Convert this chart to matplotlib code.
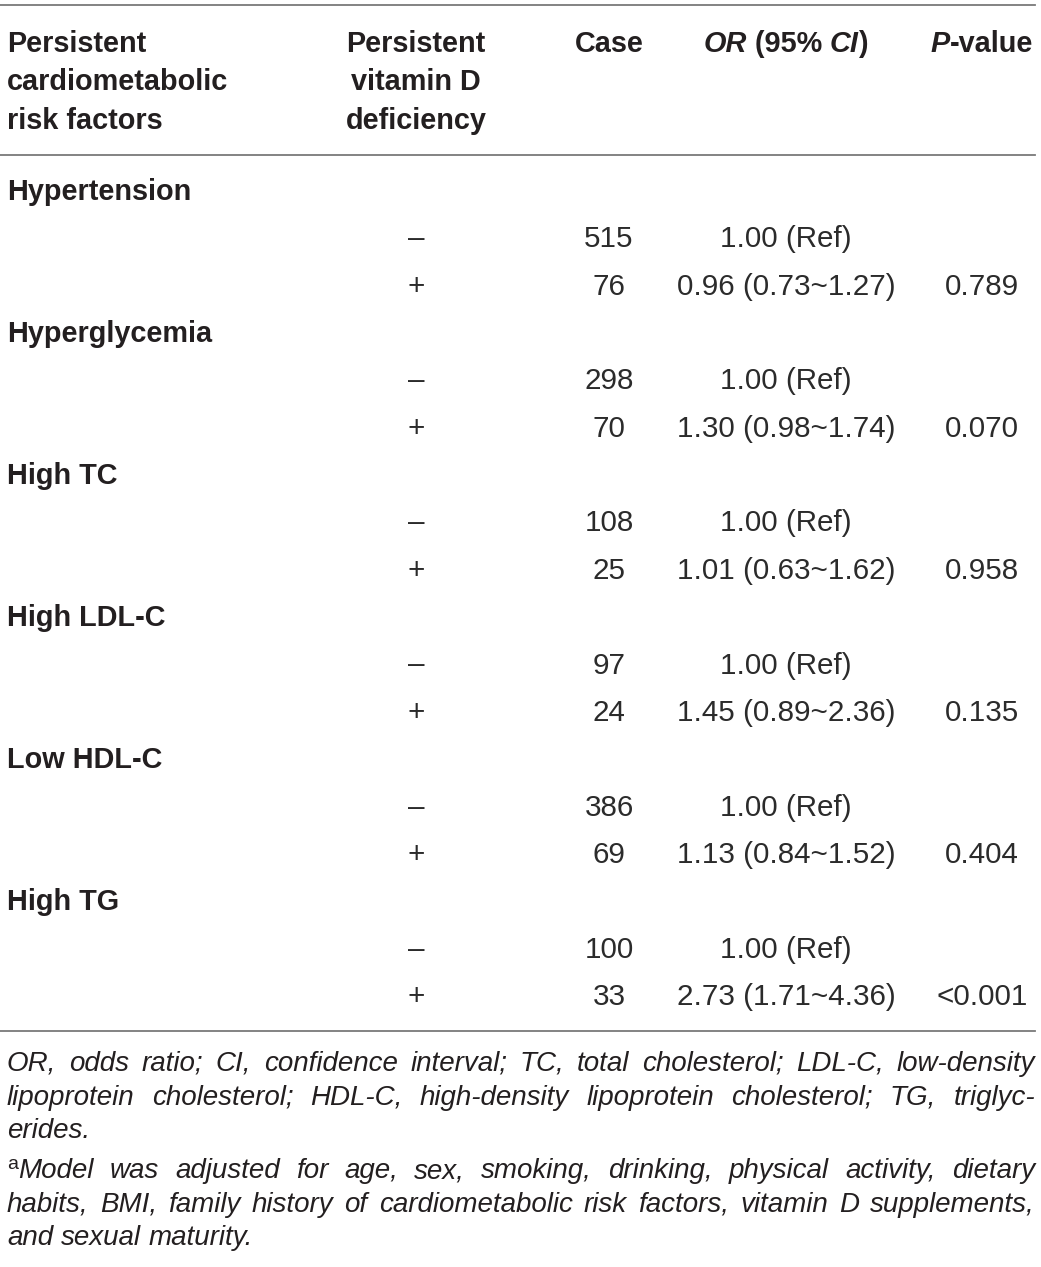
import matplotlib

matplotlib.use("Agg")
import matplotlib.pyplot as plt
from matplotlib.lines import Line2D

W, H = 1041, 1267
FONT = "Liberation Sans"
INK = "#231f20"
BODY = "#2b2b2b"
RULE = "#7a7a7a"

# table data
risk_factors = ["Hypertension", "Hyperglycemia", "High TC", "High LDL-C", "Low HDL-C", "High TG"]
deficiency = ["\u2013", "+"]
cases = [[515, 76], [298, 70], [108, 25], [97, 24], [386, 69], [100, 33]]
odds_ratios = [
    ["1.00 (Ref)", "0.96 (0.73~1.27)"],
    ["1.00 (Ref)", "1.30 (0.98~1.74)"],
    ["1.00 (Ref)", "1.01 (0.63~1.62)"],
    ["1.00 (Ref)", "1.45 (0.89~2.36)"],
    ["1.00 (Ref)", "1.13 (0.84~1.52)"],
    ["1.00 (Ref)", "2.73 (1.71~4.36)"],
]
p_values = [["", "0.789"], ["", "0.070"], ["", "0.958"], ["", "0.135"], ["", "0.404"], ["", "<0.001"]]

header_col1 = ["Persistent", "cardiometabolic", "risk factors"]
header_col2 = ["Persistent", "vitamin D", "deficiency"]
header_case = "Case"
header_or = [("OR", "italic"), (" (95% ", "normal"), ("CI", "italic"), (")", "normal")]
header_p = [("P", "italic"), ("-value", "normal")]

footnote_1 = [
    ("OR, odds ratio; CI, confidence interval; TC, total cholesterol; LDL-C, low-density", True),
    ("lipoprotein cholesterol; HDL-C, high-density lipoprotein cholesterol; TG, triglyc-", True),
    ("erides.", False),
]
footnote_2 = [
    ("Model was adjusted for age, sex, smoking, drinking, physical activity, dietary", True),
    ("habits, BMI, family history of cardiometabolic risk factors, vitamin D supplements,", True),
    ("and sexual maturity.", False),
]

BOLD_SIZE = 20.8
BODY_SIZE = 21.3
NOTE_SIZE = 20

fig = plt.figure(figsize=(W / 100, H / 100), dpi=100)
fig.patch.set_facecolor("white")
renderer = fig.canvas.get_renderer()


def fx(x):
    return x / W


def fy(y):
    return 1 - y / H


def put(x, y, s, ha="left", size=BOLD_SIZE, weight="normal", style="normal", color=INK):
    return fig.text(fx(x), fy(y), s, ha=ha, va="baseline", fontsize=size,
                    fontweight=weight, fontstyle=style, family=FONT, color=color)


def width(t):
    return t.get_window_extent(renderer).width


def put_segments(xc, y, segs, size=BOLD_SIZE, weight="bold"):
    texts = [put(0, y, s, size=size, weight=weight, style=st) for s, st in segs]
    total = sum(width(t) for t in texts)
    x = xc - total / 2
    for t in texts:
        t.set_x(fx(x))
        x += width(t)


def rule(y, x0=0, x1=1035):
    fig.add_artist(Line2D([fx(x0), fx(x1)], [fy(y), fy(y)], transform=fig.transFigure,
                          color=RULE, linewidth=1.3))


def justify(y, line, full, x0=7, x1=1035, size=NOTE_SIZE, lead=None):
    words = line.split(" ")
    texts = [put(0, y, w, size=size, style="italic") for w in words]
    widths = [width(t) for t in texts]
    start = x0
    if lead is not None:
        sup = put(x0, y - 9, lead, size=14)
        start = x0 + width(sup)
    if full:
        gap = (x1 - start - sum(widths)) / (len(words) - 1)
    else:
        gap = size * 0.38
    x = start
    for t, w in zip(texts, widths):
        t.set_x(fx(x))
        x += w + gap


# column positions
X1, X2, X3, X4, X5 = 7, 416, 609, 786, 982

rule(5)
for i, (a, b) in enumerate(zip(header_col1, header_col2)):
    yb = 52 + i * 38.5
    put(X1, yb, a, weight="bold")
    put(X2, yb, b, ha="center", weight="bold")
put(X3, 52, header_case, ha="center", weight="bold")
put_segments(X4, 52, header_or)
put_segments(X5, 52, header_p)
rule(155)

row_h = 47.35
y0 = 200
row = 0
for k, name in enumerate(risk_factors):
    put(X1, y0 + row * row_h, name, weight="bold")
    row += 1
    for j in range(2):
        yb = y0 + row * row_h
        put(X2, yb, deficiency[j], ha="center", size=BODY_SIZE, color=BODY)
        put(X3, yb, str(cases[k][j]), ha="center", size=BODY_SIZE, color=BODY)
        put(X4, yb, odds_ratios[k][j], ha="center", size=BODY_SIZE, color=BODY)
        if p_values[k][j]:
            put(X5, yb, p_values[k][j], ha="center", size=BODY_SIZE, color=BODY)
        row += 1

rule(1031)

fy0 = 1071
for i, (line, full) in enumerate(footnote_1):
    justify(fy0 + i * 33.6, line, full)
fy1 = 1178
for i, (line, full) in enumerate(footnote_2):
    justify(fy1 + i * 33.6, line, full, lead="a" if i == 0 else None)

fig.savefig("out.png", dpi=100, facecolor="white")
